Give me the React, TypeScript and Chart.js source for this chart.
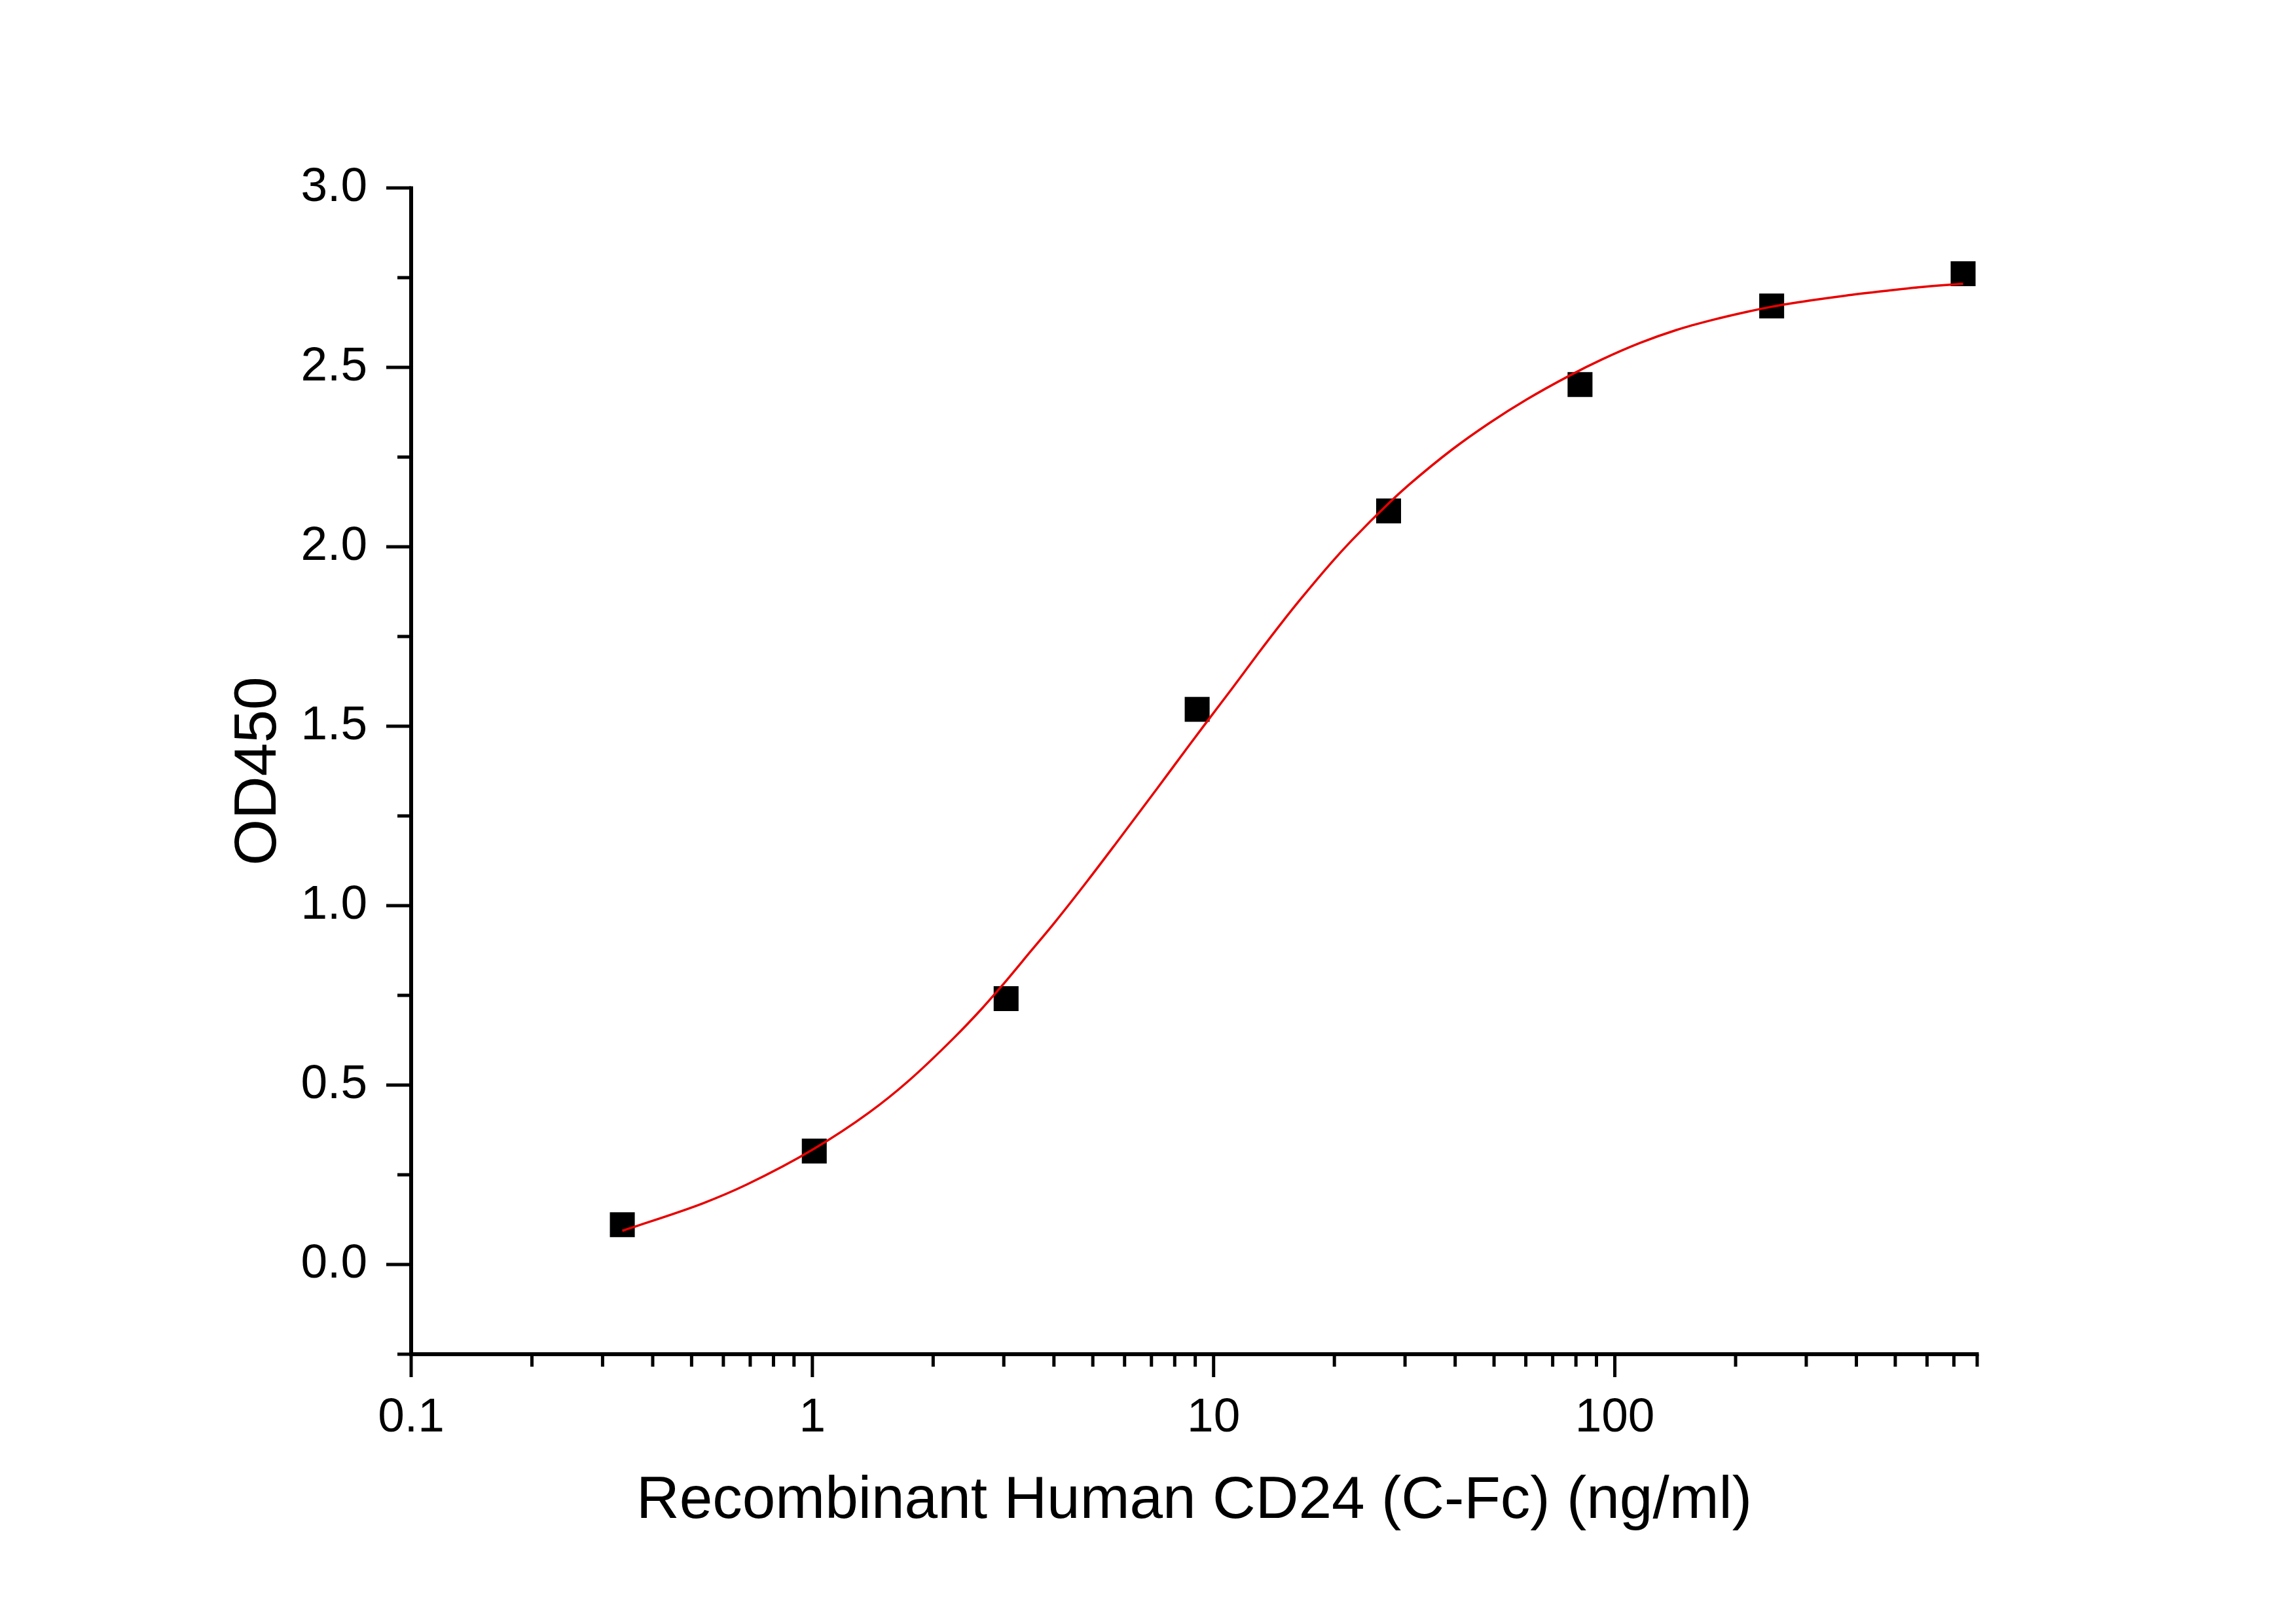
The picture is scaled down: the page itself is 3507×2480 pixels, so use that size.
import React, { useEffect, useRef } from 'react';
import { Chart, registerables } from 'chart.js';

Chart.register(...registerables);

// Measured data points (concentration ng/ml, OD450)
const CONC = [0.336, 1.011, 3.04, 9.1, 27.3, 81.9, 246, 738];
const OD = [0.111, 0.316, 0.741, 1.547, 2.1, 2.452, 2.671, 2.761];

// Fitted curve
const FIT_X = [
  0.336, 0.535, 0.687, 1.005, 1.387, 1.73, 2.26, 2.65, 2.85, 2.97, 3.52, 4.01, 4.84, 5.75, 7.24,
  8.72, 9.72, 11.1, 12.9, 14.8, 16.5, 19.7, 22.1, 27.3, 30.7, 39.3, 48.7, 60.4, 77.1, 92.9,
  115.6, 142.3, 175, 216, 246, 305.6, 376, 464, 571, 738,
];
const FIT_Y = [
  0.094, 0.171, 0.223, 0.321, 0.424, 0.51, 0.633, 0.714, 0.754, 0.777, 0.876, 0.952, 1.068, 1.178, 1.327,
  1.449, 1.519, 1.604, 1.702, 1.789, 1.855, 1.957, 2.018, 2.121, 2.173, 2.271, 2.345, 2.411, 2.477, 2.522,
  2.568, 2.604, 2.632, 2.656, 2.669, 2.686, 2.7, 2.712, 2.723, 2.733,
];

// Axis ticks
const X_MAJOR = [0.1, 1, 10, 100];
const X_MINOR = [
  0.2, 0.3, 0.4, 0.5, 0.6, 0.7, 0.8, 0.9,
  2, 3, 4, 5, 6, 7, 8, 9,
  20, 30, 40, 50, 60, 70, 80, 90,
  200, 300, 400, 500, 600, 700, 800,
];
const Y_MAJOR = [0, 0.5, 1, 1.5, 2, 2.5, 3];
const Y_MINOR = [-0.25, 0.25, 0.75, 1.25, 1.75, 2.25, 2.75];

const X_MIN = 0.1;
const X_MAX = 800;
const Y_MIN = -0.25;
const Y_MAX = 3.0;

const X_TITLE = 'Recombinant Human CD24 (C-Fc) (ng/ml)';
const Y_TITLE = 'OD450';

const FONT = '"Liberation Sans", Arial, Helvetica, sans-serif';

const axesPlugin = {
  id: 'originAxes',
  afterDraw(chart: any) {
    const { ctx } = chart;
    const xs = chart.scales.x;
    const ys = chart.scales.y;
    const L = xs.getPixelForValue(X_MIN);
    const R = xs.getPixelForValue(X_MAX);
    const T = ys.getPixelForValue(Y_MAX);
    const B = ys.getPixelForValue(Y_MIN);
    ctx.save();
    ctx.strokeStyle = '#000';
    ctx.lineCap = 'butt';

    ctx.lineWidth = 5;
    ctx.beginPath();
    Y_MAJOR.forEach((v) => {
      const p = ys.getPixelForValue(v);
      ctx.moveTo(L - 38, p);
      ctx.lineTo(L, p);
    });
    Y_MINOR.forEach((v) => {
      const p = ys.getPixelForValue(v);
      ctx.moveTo(L - 21, p);
      ctx.lineTo(L, p);
    });
    X_MAJOR.forEach((v) => {
      const p = xs.getPixelForValue(v);
      ctx.moveTo(p, B);
      ctx.lineTo(p, B + 35);
    });
    X_MINOR.forEach((v) => {
      const p = xs.getPixelForValue(v);
      ctx.moveTo(p, B);
      ctx.lineTo(p, B + 19);
    });
    ctx.stroke();

    ctx.lineWidth = 6;
    ctx.beginPath();
    ctx.moveTo(L, T - 2.5);
    ctx.lineTo(L, B + 3);
    ctx.moveTo(L - 3, B);
    ctx.lineTo(R + 2.5, B);
    ctx.stroke();
    ctx.restore();
  },
};

export default function App() {
  const ref = useRef<HTMLCanvasElement>(null);

  useEffect(() => {
    if (!ref.current) return;
    const chart = new Chart(ref.current, {
      type: 'scatter',
      data: {
        datasets: [
          {
            label: 'fit',
            data: FIT_X.map((x, i) => ({ x, y: FIT_Y[i] })),
            showLine: true,
            borderColor: 'rgb(232,0,0)',
            borderWidth: 3.5,
            pointRadius: 0,
            pointHoverRadius: 0,
            cubicInterpolationMode: 'monotone',
            fill: false,
          } as any,
          {
            label: 'data',
            data: CONC.map((x, i) => ({ x, y: OD[i] })),
            showLine: false,
            pointStyle: 'rect',
            pointRadius: 26.9,
            pointHoverRadius: 26.9,
            backgroundColor: '#000',
            borderColor: '#000',
            borderWidth: 0,
          } as any,
        ],
      },
      options: {
        responsive: false,
        animation: false,
        devicePixelRatio: 1,
        events: [],
        layout: { padding: { left: 0, top: 287, right: 487, bottom: 0 } },
        plugins: {
          legend: { display: false },
          tooltip: { enabled: false },
        },
        scales: {
          x: {
            type: 'logarithmic',
            position: 'bottom',
            min: X_MIN,
            max: X_MAX,
            afterBuildTicks: (s: any) => {
              s.ticks = X_MAJOR.map((v) => ({ value: v }));
            },
            afterFit: (s: any) => {
              s.height = 412;
            },
            grid: { display: false },
            border: { display: false },
            ticks: {
              color: '#000',
              font: { family: FONT, size: 73 },
              padding: 46,
              maxRotation: 0,
              autoSkip: false,
              callback: (v: any) => {
                const n = Number(v);
                return n < 1 ? n.toFixed(1) : String(n);
              },
            },
            title: {
              display: true,
              text: X_TITLE,
              color: '#000',
              font: { family: FONT, size: 91 },
              padding: { top: 0, bottom: 132 },
            },
          },
          y: {
            type: 'linear',
            min: Y_MIN,
            max: Y_MAX,
            afterBuildTicks: (s: any) => {
              s.ticks = Y_MAJOR.map((v) => ({ value: v }));
            },
            afterFit: (s: any) => {
              s.width = 628;
            },
            grid: { display: false },
            border: { display: false },
            ticks: {
              color: '#000',
              font: { family: FONT, size: 73 },
              padding: 59,
              autoSkip: false,
              callback: (v: any) => Number(v).toFixed(1),
            },
            title: {
              display: true,
              text: Y_TITLE,
              color: '#000',
              font: { family: FONT, size: 91 },
              padding: { top: 341, bottom: 0 },
            },
          },
        },
      } as any,
      plugins: [axesPlugin],
    });
    return () => chart.destroy();
  }, []);

  return (
    <div
      style={{
        position: 'absolute',
        left: 0,
        top: 0,
        width: 3507,
        height: 2480,
        background: '#fff',
      }}
    >
      <canvas
        ref={ref}
        width={3507}
        height={2480}
        style={{ display: 'block', width: 3507, height: 2480 }}
      />
    </div>
  );
}
